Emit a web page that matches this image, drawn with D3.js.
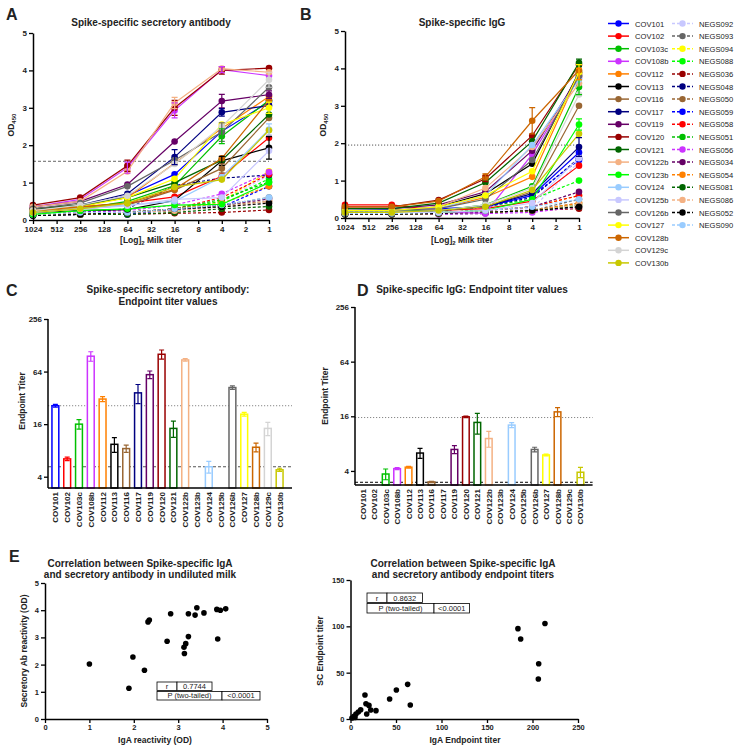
<!DOCTYPE html>
<html>
<head>
<meta charset="utf-8">
<script src="https://cdn.jsdelivr.net/npm/d3@7"></script>
<style>
body { margin: 0; background: #fff; }
text { font-family: "Liberation Sans", Arial, sans-serif; }
</style>
</head>
<body>
<script>
// ---- data ----
const dilutionTicks = [1024, 512, 256, 128, 64, 32, 16, 8, 4, 2, 1];
const dilutions = [1024, 256, 64, 16, 4, 1];

const covIds = ["COV101","COV102","COV103c","COV108b","COV112","COV113","COV116","COV117","COV119","COV120",
  "COV121","COV122b","COV123b","COV124","COV125b","COV126b","COV127","COV128b","COV129c","COV130b"];
const covColors = ["#0000ff","#ff0000","#00c000","#cc33ff","#ff8000","#000000","#996633","#000080","#660066","#990000",
  "#006600","#f4b183","#00ff00","#99ccff","#c8c8ff","#666666","#ffff00","#cc6600","#d4d4d4","#c8c800"];
const negIds = ["NEGS092","NEGS093","NEGS094","NEGS088","NEGS036","NEGS048","NEGS050","NEGS059","NEGS058",
  "NEGS051","NEGS056","NEGS034","NEGS054","NEGS081","NEGS086","NEGS052","NEGS090"];
const negColors = ["#c8c8ff","#666666","#ffff00","#00ff00","#990000","#000080","#996633","#0000ff","#ff0000",
  "#00c000","#cc33ff","#660066","#ff8000","#006600","#f4b183","#000000","#99ccff"];

// panel A: secretory antibody OD450, columns follow `dilutions`
const scCov = [
  [0.25,0.35,0.65,1.22,2.37,3.16],
  [0.30,0.35,0.45,0.62,1.17,2.20],
  [0.20,0.30,0.50,0.92,2.24,3.20],
  [0.35,0.55,1.40,2.93,4.02,3.86],
  [0.30,0.40,0.60,1.52,2.45,3.30],
  [0.20,0.25,0.28,0.52,1.58,1.93],
  [0.25,0.30,0.40,0.80,1.38,2.73],
  [0.30,0.40,0.70,1.68,2.88,3.06],
  [0.35,0.50,0.95,2.10,3.18,3.35],
  [0.40,0.60,1.45,3.00,4.00,4.06],
  [0.30,0.40,0.60,1.00,1.60,2.82],
  [0.35,0.50,1.30,3.13,4.05,3.95],
  [0.15,0.25,0.30,0.40,0.42,1.00],
  [0.20,0.30,0.40,0.50,1.15,2.42],
  [0.20,0.30,0.38,0.55,0.60,1.85],
  [0.30,0.45,0.90,1.60,2.35,3.55],
  [0.25,0.35,0.60,1.10,2.55,3.00],
  [0.25,0.35,0.45,0.82,1.65,3.20],
  [0.25,0.40,0.65,1.50,2.50,3.75],
  [0.20,0.30,0.45,0.88,1.08,2.40]
];
const scNeg = [
  [0.15,0.15,0.20,0.30,0.50,1.20],
  [0.15,0.15,0.20,0.25,0.40,0.60],
  [0.15,0.15,0.20,0.30,0.50,1.30],
  [0.15,0.15,0.20,0.30,0.50,1.10],
  [0.12,0.15,0.15,0.18,0.20,0.27],
  [0.15,0.20,0.30,0.92,1.12,1.20],
  [0.15,0.15,0.20,0.25,0.40,0.50],
  [0.12,0.15,0.15,0.28,0.35,0.90],
  [0.15,0.20,0.20,0.30,0.60,1.22],
  [0.15,0.15,0.20,0.30,0.55,1.02],
  [0.15,0.20,0.25,0.40,0.70,1.28],
  [0.15,0.15,0.20,0.30,0.40,0.56],
  [0.15,0.15,0.20,0.30,0.45,0.90],
  [0.12,0.15,0.15,0.20,0.30,0.36],
  [0.15,0.15,0.20,0.25,0.35,0.50],
  [0.12,0.15,0.20,0.30,0.35,0.45],
  [0.15,0.20,0.20,0.30,0.40,0.60]
];
const scErr = [["COV120",64,0.15],["COV108b",64,0.15],["COV120",16,0.2],["COV108b",16,0.2],["COV122b",16,0.15],
  ["COV117",16,0.2],["COV120",4,0.1],["COV108b",4,0.08],["COV119",4,0.18],["COV117",4,0.1],["COV126b",4,0.25],
  ["COV103c",4,0.2],["COV113",4,0.12],["COV116",4,0.12],["COV113",1,0.3],["COV124",1,0.15],["COV127",1,0.15],
  ["COV129c",1,0.2],["COV119",1,0.1]];
const scCutoff = 1.57;

// panel B: IgG OD450
const iggCov = [
  [0.20,0.22,0.25,0.30,0.60,1.75],
  [0.35,0.35,0.20,0.25,0.45,1.40],
  [0.20,0.20,0.20,0.35,0.85,3.50],
  [0.15,0.15,0.15,0.13,1.70,3.75],
  [0.20,0.20,0.25,0.55,1.10,3.85],
  [0.20,0.20,0.30,0.65,1.45,3.90],
  [0.15,0.15,0.20,0.30,0.70,3.00],
  [0.15,0.15,0.20,0.30,0.65,1.90],
  [0.25,0.25,0.35,0.70,1.80,3.80],
  [0.30,0.30,0.48,1.05,2.20,4.10],
  [0.25,0.25,0.40,0.95,2.05,4.15],
  [0.20,0.20,0.30,0.80,1.90,3.60],
  [0.15,0.15,0.15,0.20,0.50,2.50],
  [0.20,0.20,0.25,0.60,1.95,3.70],
  [0.15,0.15,0.15,0.20,0.40,1.60],
  [0.20,0.20,0.25,0.50,1.55,3.80],
  [0.20,0.20,0.30,0.60,1.25,3.90],
  [0.30,0.30,0.45,1.10,2.60,3.95],
  [0.15,0.15,0.20,0.35,0.80,3.30],
  [0.15,0.15,0.20,0.30,0.75,2.25]
];
const iggNeg = [
  [0.15,0.15,0.15,0.20,0.25,1.50],
  [0.10,0.10,0.10,0.12,0.20,0.50],
  [0.12,0.12,0.15,0.20,0.30,0.60],
  [0.15,0.15,0.20,0.30,0.50,1.00],
  [0.10,0.10,0.12,0.15,0.20,0.25],
  [0.15,0.15,0.20,0.30,0.55,1.60],
  [0.10,0.10,0.12,0.15,0.20,0.40],
  [0.15,0.15,0.20,0.30,0.60,1.55],
  [0.12,0.12,0.15,0.20,0.30,0.60],
  [0.10,0.10,0.12,0.15,0.20,0.35],
  [0.10,0.10,0.10,0.12,0.15,0.30],
  [0.12,0.12,0.15,0.20,0.30,0.70],
  [0.10,0.10,0.12,0.15,0.20,0.40],
  [0.10,0.10,0.12,0.15,0.20,0.30],
  [0.10,0.10,0.12,0.15,0.20,0.35],
  [0.10,0.10,0.12,0.15,0.20,0.30],
  [0.12,0.12,0.15,0.20,0.30,0.50]
];
const iggErr = [["COV128b",4,0.35],["COV120",16,0.08],["COV128b",16,0.08],["COV121",1,0.1],["COV103c",1,0.2],
  ["COV123b",1,0.15],["COV127",1,0.2],["COV117",1,0.25],["COV112",1,0.15]];
const iggCutoff = 1.95;

// panels C and D: endpoint titers (0 = no bar)
const scTiter = [26, 6.4, 16, 96, 31, 9.4, 8.4, 36.5, 59, 101, 14.3, 87, 0, 5.2, 0, 42, 20.8, 8.7, 14.3, 4.8];
const scTiterErr = [1, 0.3, 2, 12, 2, 1.8, 0.8, 9, 6, 12, 3, 3, 0, 0.8, 0, 2, 1, 1, 2.5, 0.2];
const scTiterLines = [26, 5.2];
const iggTiter = [0, 0, 3.7, 4.24, 4.4, 6.3, 3.03, 0, 6.9, 15.8, 13.7, 9.1, 0, 12.8, 0, 6.9, 6.0, 17.9, 0, 3.87];
const iggTiterErr = [0, 0, 0.5, 0.1, 0.1, 0.8, 0.05, 0, 0.7, 0.3, 3.5, 1.8, 0, 0.8, 0, 0.4, 0.15, 2, 0, 0.5];
const iggTiterLines = [15.5, 3.0];
const titerTicks = [4, 16, 64, 256];

// panel E: correlations
const igaOd = [1.0,1.89,1.98,2.24,2.32,2.35,2.75,2.83,3.13,3.14,3.17,3.23,3.23,3.42,3.38,3.58,3.87,3.95,3.89,4.07];
const secOd = [2.02,1.13,2.28,1.79,3.57,3.64,2.86,3.87,2.64,2.41,2.77,3.03,3.87,4.09,3.82,3.90,4.03,4.0,2.94,4.05];
const igaEp = [184,187,213.7,206.8,206.4,62.8,50.4,43,65.7,15.9,17,20.3,17.8,22.2,28,11.2,8.6,6,3.8,1.6,4.9];
const secEp = [97.5,86.4,103,59.7,43.2,37.4,31.3,21.6,15.1,25.9,16.5,14.7,5.4,9.7,9,10,7.6,5.4,2.8,1,1.7];
const statsOd = ["0.7744", "<0.0001"];
const statsEp = ["0.8632", "<0.0001"];

// ---- drawing ----
const svg = d3.select("body").append("svg").attr("width", 736).attr("height", 749);
const fmt = d3.format("d");

function styleAxis(a, fs) {
  a.attr("font-family", "Liberation Sans, Arial, sans-serif");
  a.select(".domain").attr("stroke-width", 1.5);
  a.selectAll(".tick line").attr("stroke-width", 1.3);
  a.selectAll(".tick text").attr("font-size", fs || 8).attr("font-weight", "bold").attr("fill", "#222");
}

function txt(x, y, s, size, bold, anchor) {
  return svg.append("text").attr("x", x).attr("y", y).text(s)
    .attr("font-size", size).attr("font-weight", bold ? "bold" : "normal")
    .attr("text-anchor", anchor || "middle").attr("fill", "#222");
}

function vlabel(x, y, s, size) {
  return svg.append("text").attr("transform", `translate(${x},${y}) rotate(-90)`)
    .attr("text-anchor", "middle").attr("font-size", size).attr("font-weight", "bold").attr("fill", "#222").text(s);
}

function odPanel(x0, x1, y0, y1, cov, neg, errs, cutoff, cutDash, cutColor) {
  const x = d3.scalePoint().domain(dilutionTicks).range([x0, x1]);
  const y = d3.scaleLinear().domain([0, 5]).range([y0, y1]);
  const g = svg.append("g");

  g.append("line").attr("x1", x0).attr("x2", x1).attr("y1", y(cutoff)).attr("y2", y(cutoff))
    .attr("stroke", cutColor).attr("stroke-width", 1).attr("stroke-dasharray", cutDash);

  const line = d3.line().x((d, i) => x(dilutions[i])).y(d => y(d));

  function series(data, colors, dashed) {
    data.forEach((vals, k) => {
      g.append("path").attr("d", line(vals)).attr("fill", "none")
        .attr("stroke", colors[k]).attr("stroke-width", 1.2)
        .attr("stroke-dasharray", dashed ? "3,2" : null);
      g.selectAll(null).data(vals).enter().append("circle")
        .attr("cx", (d, i) => x(dilutions[i])).attr("cy", d => y(d))
        .attr("r", 3.3).attr("fill", colors[k]);
    });
  }
  series(neg, negColors, true);
  series(cov, covColors, false);

  errs.forEach(([id, dil, e]) => {
    const k = covIds.indexOf(id);
    const v = cov[k][dilutions.indexOf(dil)];
    const cx = x(dil);
    g.append("path")
      .attr("d", `M${cx - 3},${y(v + e)}H${cx + 3}M${cx},${y(v + e)}V${y(v - e)}M${cx - 3},${y(v - e)}H${cx + 3}`)
      .attr("stroke", covColors[k]).attr("stroke-width", 1.2).attr("fill", "none");
  });

  const ay = g.append("g").attr("transform", `translate(${x0},0)`)
    .call(d3.axisLeft(y).tickValues([0, 1, 2, 3, 4, 5]).tickFormat(fmt).tickSize(4).tickSizeOuter(0).tickPadding(2));
  styleAxis(ay);
  const ax = g.append("g").attr("transform", `translate(0,${y0})`)
    .call(d3.axisBottom(x).tickSize(4).tickSizeOuter(0).tickPadding(2));
  styleAxis(ax);
}

function odLabels(cx, axisX, title) {
  txt(cx, 26, title, 10, true);
  const t = svg.append("text").attr("text-anchor", "middle").attr("font-size", 8.5).attr("font-weight", "bold")
    .attr("fill", "#222").attr("x", cx).attr("y", 243);
  t.append("tspan").text("[Log]");
  t.append("tspan").text("2").attr("font-size", 6).attr("dy", 2);
  t.append("tspan").text(" Milk titer").attr("dy", -2);
  const v = svg.append("text").attr("transform", `translate(${axisX - 19},125) rotate(-90)`)
    .attr("text-anchor", "middle").attr("font-size", 8.5).attr("font-weight", "bold").attr("fill", "#222");
  v.append("tspan").text("OD");
  v.append("tspan").text("450").attr("font-size", 6).attr("dy", 2);
}

// A
odPanel(33, 269, 220, 33, scCov, scNeg, scErr, scCutoff, "3,2", "#666");
odLabels(151, 33, "Spike-specific secretory antibody");
txt(6, 20, "A", 16, true, "start");

// B
odPanel(345, 579, 218, 31, iggCov, iggNeg, iggErr, iggCutoff, "1.2,1.8", "#555");
odLabels(462, 345, "Spike-specific IgG");
txt(300, 20, "B", 16, true, "start");

// legend
const leg = svg.append("g").attr("font-size", 7.6).attr("fill", "#222");
function legendCol(ids, colors, lx, dashed) {
  ids.forEach((id, i) => {
    const ly = 23.5 + i * 12.6;
    leg.append("line").attr("x1", lx).attr("x2", lx + 21).attr("y1", ly).attr("y2", ly)
      .attr("stroke", colors[i]).attr("stroke-width", 1.5).attr("stroke-dasharray", dashed ? "3,2" : null);
    leg.append("circle").attr("cx", lx + 10.5).attr("cy", ly).attr("r", 3.2).attr("fill", colors[i]);
    leg.append("text").attr("x", lx + 27).attr("y", ly + 3).text(id).attr("fill", "#222");
  });
}
legendCol(covIds, covColors, 608, false);
legendCol(negIds, negColors, 672, true);

// C and D: endpoint titer bars
function titerPanel(axisX, x0, x1, base, top, lo, vals, errs, lines, lineStyles) {
  const x = d3.scaleBand().domain(covIds).range([x0, x1]).padding(0.42);
  const y = d3.scaleLog().base(2).domain([lo, 256]).range([base, top]);
  const g = svg.append("g");

  lines.forEach((v, i) => {
    g.append("line").attr("x1", axisX).attr("x2", x1 + 4).attr("y1", y(v)).attr("y2", y(v))
      .attr("stroke", lineStyles[i][0]).attr("stroke-width", 1).attr("stroke-dasharray", lineStyles[i][1]);
  });

  covIds.forEach((id, i) => {
    const v = vals[i];
    if (v <= lo) return;
    const bx = x(id), bw = x.bandwidth();
    g.append("rect").attr("x", bx).attr("y", y(v)).attr("width", bw).attr("height", base - y(v))
      .attr("fill", "#fff").attr("stroke", covColors[i]).attr("stroke-width", 1.5);
    const e = errs[i];
    if (e > 0) {
      const cx = bx + bw / 2;
      g.append("path")
        .attr("d", `M${cx - 2.5},${y(v + e)}H${cx + 2.5}M${cx},${y(v + e)}V${y(v - e)}M${cx - 2.5},${y(v - e)}H${cx + 2.5}`)
        .attr("stroke", covColors[i]).attr("stroke-width", 1.2).attr("fill", "none");
    }
  });

  const ay = g.append("g").attr("transform", `translate(${axisX},0)`)
    .call(d3.axisLeft(y).tickValues(titerTicks).tickFormat(fmt).tickSize(4).tickSizeOuter(0).tickPadding(2));
  ay.select(".domain").attr("d", `M0,${base}V${y(256)}`);
  styleAxis(ay);

  g.append("line").attr("x1", axisX).attr("x2", x1 + 4).attr("y1", base).attr("y2", base)
    .attr("stroke", "#000").attr("stroke-width", 1.5);
  g.selectAll(null).data(covIds).enter().append("text")
    .attr("transform", d => `translate(${x(d) + x.bandwidth() / 2 + 3},${base + 4}) rotate(-90)`)
    .attr("text-anchor", "end").attr("font-size", 8).attr("font-weight", "bold").attr("fill", "#222").text(d => d);
}

titerPanel(48, 47, 288, 488, 319, 2.97, scTiter, scTiterErr, scTiterLines, [["#888", "1.2,1.8"], ["#555", "3,2"]]);
txt(168, 293, "Spike-specific secretory antibody:", 10, true);
txt(168, 305, "Endpoint titer values", 10, true);
vlabel(25, 401, "Endpoint Titer", 8.5);
txt(6, 296, "C", 16, true, "start");

titerPanel(355, 354.6, 588.6, 485, 307, 2.8, iggTiter, iggTiterErr, iggTiterLines, [["#888", "1.2,1.8"], ["#000", "3,2"]]);
txt(472, 293, "Spike-specific IgG: Endpoint titer values", 10, true);
vlabel(328, 396, "Endpoint Titer", 8.5);
txt(357, 296, "D", 16, true, "start");

// E: correlations
function scatterPanel(x, y, xs, ys, xt, yt) {
  const g = svg.append("g");
  g.selectAll(null).data(xs).enter().append("circle")
    .attr("cx", d => x(d)).attr("cy", (d, i) => y(ys[i])).attr("r", 2.8).attr("fill", "#000");
  const ax = g.append("g").attr("transform", `translate(0,${y.range()[0]})`)
    .call(d3.axisBottom(x).tickValues(xt).tickFormat(fmt).tickSize(4).tickSizeOuter(0).tickPadding(2));
  styleAxis(ax, 7.5);
  const ay = g.append("g").attr("transform", `translate(${x.range()[0]},0)`)
    .call(d3.axisLeft(y).tickValues(yt).tickFormat(fmt).tickSize(4).tickSizeOuter(0).tickPadding(2));
  styleAxis(ay, 7.5);
}

// small r / P table: widths = [r cell, r value, P cell, P value]
function statsBox(x0, y0, w, h, vals) {
  const g = svg.append("g").attr("font-size", 7.5).attr("fill", "#222");
  const cells = [[x0, y0, w[0], "r"], [x0 + w[0], y0, w[1], vals[0]],
                 [x0, y0 + h + 1, w[2], "P (two-tailed)"], [x0 + w[2], y0 + h + 1, w[3], vals[1]]];
  cells.forEach(([cx, cy, cw, s]) => {
    g.append("rect").attr("x", cx).attr("y", cy).attr("width", cw).attr("height", h)
      .attr("fill", "#fff").attr("stroke", "#000").attr("stroke-width", 0.8);
    g.append("text").attr("x", cx + cw / 2).attr("y", cy + h - 2).attr("text-anchor", "middle").text(s);
  });
}

const xE1 = d3.scaleLinear().domain([0, 5]).range([45, 267]);
const yE1 = d3.scaleLinear().domain([0, 5]).range([719, 583]);
scatterPanel(xE1, yE1, igaOd, secOd, [0, 1, 2, 3, 4, 5], [0, 1, 2, 3, 4, 5]);
statsBox(157, 682, [20, 35, 65, 38], 8.5, statsOd);
txt(140, 567, "Correlation between Spike-specific IgA", 10, true);
txt(140, 578, "and secretory antibody in undiluted milk", 10, true);
txt(155, 743, "IgA reactivity (OD)", 8.5, true);
vlabel(27, 651, "Secretory Ab reactivity (OD)", 8.5);
txt(9, 562, "E", 16, true, "start");

const xE2 = d3.scaleLinear().domain([0, 250]).range([350.5, 578]);
const yE2 = d3.scaleLinear().domain([0, 150]).range([719, 580]);
scatterPanel(xE2, yE2, igaEp, secEp, [0, 50, 100, 150, 200, 250], [0, 50, 100, 150]);
statsBox(367, 593, [20, 35.5, 67, 35.5], 9.5, statsEp);
txt(463, 567, "Correlation between Spike-specific IgA", 10, true);
txt(463, 578, "and secretory antibody endpoint titers", 10, true);
txt(465, 743, "IgA Endpoint titer", 8.5, true);
vlabel(323, 651, "SC Endpoint titer", 8.5);
</script>
</body>
</html>
